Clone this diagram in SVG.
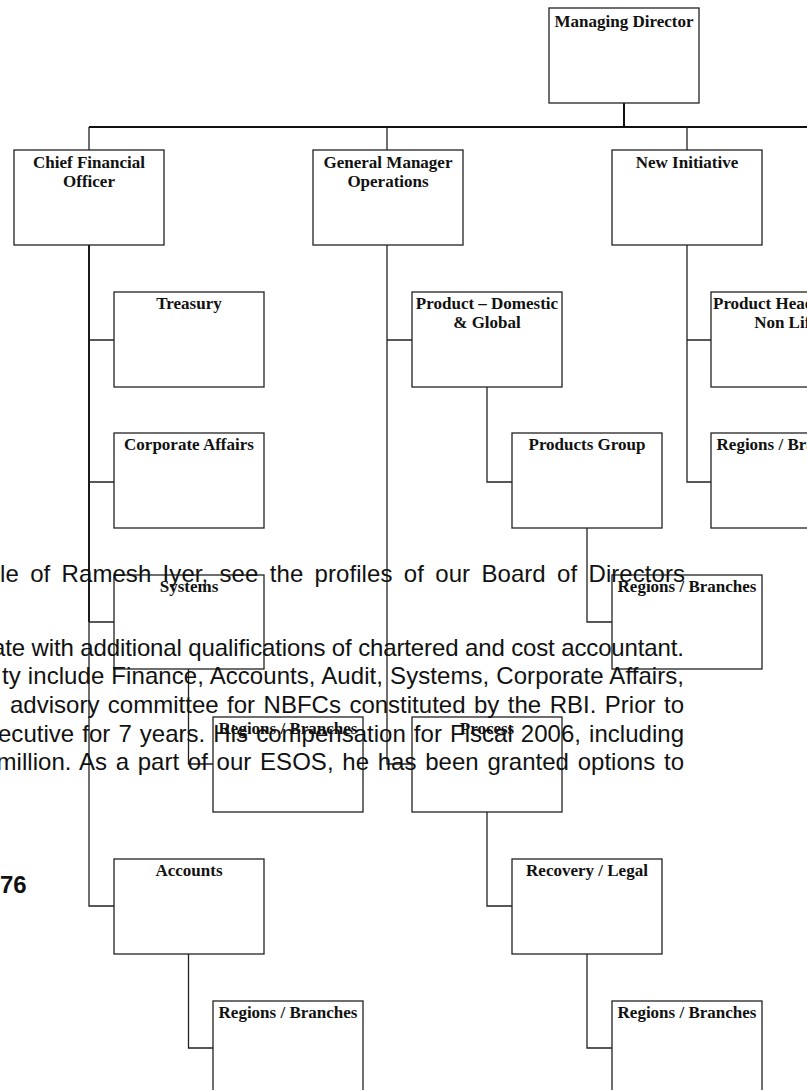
<svg xmlns="http://www.w3.org/2000/svg" width="807" height="1090" viewBox="0 0 807 1090">
<style>
.box{fill:#fff;stroke:#222;stroke-width:1.3}
.lbl{font-family:"Liberation Serif","Times New Roman",serif;font-weight:bold;font-size:17px;text-anchor:middle;fill:#111}
.conn{fill:none;stroke:#222;stroke-width:1.3}
.bus{fill:none;stroke:#111;stroke-width:2}
.para{font-family:"Liberation Sans",Arial,Helvetica,sans-serif;font-size:24px;fill:#111}
</style>
<rect width="807" height="1090" fill="#fff"/>
<g id="connectors">
<path class="bus" d="M89,127 H807 M624,103 V127"/>
<path class="conn" d="M89,127 V150 M387,127 V150 M687,127 V150"/>
<path class="bus" d="M89,245 V622"/>
<path class="conn" d="M89,245 V340 H114 M89,245 V482 H114 M89,245 V622 H114 M89,245 V906 H114"/>
<path class="conn" d="M188.5,669 V764 H213 M188.5,954 V1048 H213"/>
<path class="conn" d="M387,245 V340 H412 M387,245 V764 H412"/>
<path class="conn" d="M487,387 V482 H512 M587,528 V622 H612"/>
<path class="conn" d="M487,812 V906 H512 M587,954 V1048 H612"/>
<path class="conn" d="M687,245 V340 H711 M687,245 V482 H711"/>
</g>
<g id="managing-director"><rect class="box" x="549" y="8" width="150" height="95"/><text class="lbl" x="624" y="26.5">Managing Director</text></g>
<g id="cfo"><rect class="box" x="14" y="150" width="150" height="95"/><text class="lbl" x="89" y="168">Chief Financial</text><text class="lbl" x="89" y="187">Officer</text></g>
<g id="gm-operations"><rect class="box" x="313" y="150" width="150" height="95"/><text class="lbl" x="388" y="168">General Manager</text><text class="lbl" x="388" y="187">Operations</text></g>
<g id="new-initiative"><rect class="box" x="612" y="150" width="150" height="95"/><text class="lbl" x="687" y="168">New Initiative</text></g>
<g id="treasury"><rect class="box" x="114" y="292" width="150" height="95"/><text class="lbl" x="189" y="309">Treasury</text></g>
<g id="corporate-affairs"><rect class="box" x="114" y="433" width="150" height="95"/><text class="lbl" x="189" y="450">Corporate Affairs</text></g>
<g id="systems"><rect class="box" x="114" y="575" width="150" height="94"/><text class="lbl" x="189" y="592">Systems</text></g>
<g id="cfo-regions-1"><rect class="box" x="213" y="717" width="150" height="95"/><text class="lbl" x="288" y="734">Regions / Branches</text></g>
<g id="accounts"><rect class="box" x="114" y="859" width="150" height="95"/><text class="lbl" x="189" y="876">Accounts</text></g>
<g id="cfo-regions-2"><rect class="box" x="213" y="1001" width="150" height="95"/><text class="lbl" x="288" y="1018">Regions / Branches</text></g>
<g id="product-domestic-global"><rect class="box" x="412" y="292" width="150" height="95"/><text class="lbl" x="487" y="309">Product – Domestic</text><text class="lbl" x="487" y="328">&amp; Global</text></g>
<g id="products-group"><rect class="box" x="512" y="433" width="150" height="95"/><text class="lbl" x="587" y="450">Products Group</text></g>
<g id="gm-regions-1"><rect class="box" x="612" y="575" width="150" height="94"/><text class="lbl" x="687" y="592">Regions / Branches</text></g>
<g id="process"><rect class="box" x="412" y="717" width="150" height="95"/><text class="lbl" x="487" y="734">Process</text></g>
<g id="recovery-legal"><rect class="box" x="512" y="859" width="150" height="95"/><text class="lbl" x="587" y="876">Recovery / Legal</text></g>
<g id="gm-regions-2"><rect class="box" x="612" y="1001" width="150" height="95"/><text class="lbl" x="687" y="1018">Regions / Branches</text></g>
<g id="product-head-non-life"><rect class="box" x="711" y="292" width="150" height="95"/><text class="lbl" x="713" y="309" style="text-anchor:start">Product Head</text><text class="lbl" x="786" y="328">Non Life</text></g>
<g id="ni-regions"><rect class="box" x="711" y="433" width="150" height="95"/><text class="lbl" x="786" y="450">Regions / Branches</text></g>
<g id="page-text">
<text class="para" x="0" y="582" word-spacing="4.6" textLength="685" lengthAdjust="spacing">le of Ramesh Iyer, see the profiles of our Board of Directors</text>
<text class="para" x="-8" y="656" textLength="692" lengthAdjust="spacing">ate with additional qualifications of chartered and cost accountant.</text>
<text class="para" x="2" y="684" word-spacing="0.3" textLength="682" lengthAdjust="spacing">ty include Finance, Accounts, Audit, Systems, Corporate Affairs,</text>
<text class="para" x="10" y="713" word-spacing="1.8" textLength="674" lengthAdjust="spacing">advisory committee for NBFCs constituted by the RBI. Prior to</text>
<text class="para" x="-2" y="742" word-spacing="1.4" textLength="686" lengthAdjust="spacing">ecutive for 7 years. His compensation for Fiscal 2006, including</text>
<text class="para" x="-3.4" y="770" word-spacing="2" textLength="687.4" lengthAdjust="spacing">million. As a part of our ESOS, he has been granted options to</text>
<text class="para" x="0" y="893" font-weight="bold">76</text>
</g>
</svg>
